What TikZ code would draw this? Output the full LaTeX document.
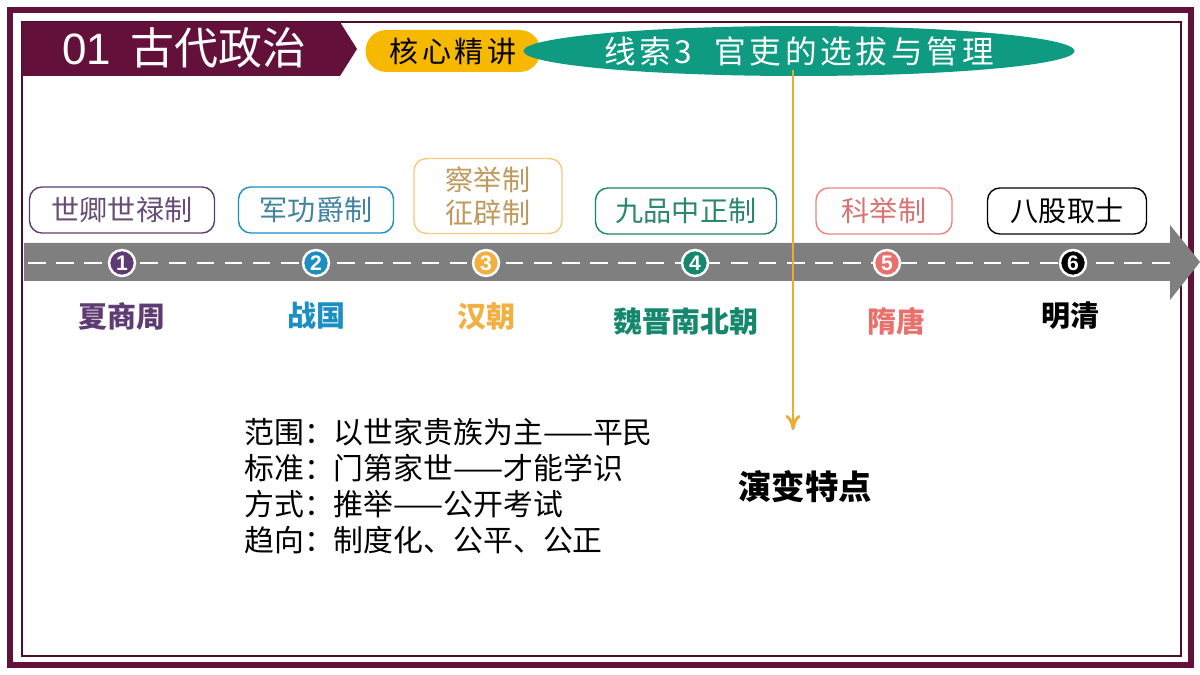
\documentclass[tikz,border=0pt]{standalone}
\usepackage{fontspec}
\setmainfont{Noto Sans CJK SC}
\newfontfamily\latinsans{Liberation Sans}
\newfontfamily\spacedcjk[LetterSpace=12]{Noto Sans CJK SC}
\usepackage{tikz}
\usetikzlibrary{arrows.meta, positioning, shapes.geometric, shadows}
\usepackage{xcolor}
\definecolor{frmaroon}{HTML}{63103A}
\definecolor{pillgold}{HTML}{F7B800}
\definecolor{clueteal}{HTML}{0F9A82}
\definecolor{leadgold}{HTML}{E9AE2E}
\definecolor{roadgrey}{HTML}{7F7F7F}
\definecolor{eraone}{HTML}{5E3B73}
\definecolor{eratwo}{HTML}{1B8EC2}
\definecolor{erathree}{HTML}{F2B043}
\definecolor{erafour}{HTML}{14876C}
\definecolor{erafive}{HTML}{E8716E}

\begin{document}
\begin{tikzpicture}[
    x=0.02cm, y=-0.02cm,
    sysbox/.style={draw, rounded corners=7pt, fill=white, line width=0.8pt,
      minimum height=0.92cm, inner sep=2pt, align=center,
      font=\fontsize{16}{19}\selectfont},
    stop/.style={circle, draw=white, line width=1.4pt, minimum size=0.52cm,
      inner sep=0pt, text=white, font=\fontsize{12}{12}\bfseries\latinsans,
      drop shadow={shadow xshift=1pt, shadow yshift=-1pt, opacity=0.35}},
    era/.style={font=\fontsize{16.5}{19}\bfseries\selectfont}]

  \useasboundingbox (0,0) rectangle (1200,675);
  \fill[white] (0,0) rectangle (1200,675);

  % frame
  \draw[frmaroon, line width=3.4pt] (10,10) rectangle (1191,665);
  \draw[frmaroon!80!black, line width=1.1pt] (22,22) rectangle (1181,656);

  % header
  \fill[frmaroon] (22,22) -- (340,22) -- (357,49) -- (340,76) -- (22,76) -- cycle;
  \node[text=white, anchor=west, font=\fontsize{25}{25}\selectfont] (part) at (56,48)
    {{\latinsans 01}\hspace{0.45em}古代政治};
  \node[fill=pillgold, rounded corners=0.42cm, minimum width=3.5cm,
    minimum height=0.84cm, font=\fontsize{16.5}{17}\spacedcjk] (core) at (453,51)
    {核心精讲};
  \node[ellipse, fill=clueteal, minimum width=10.9cm, minimum height=1cm,
    inner sep=0pt, text=white, font=\fontsize{18}{18}\spacedcjk] (clue) at (799,51)
    {线索3\ \ 官吏的选拔与管理};

  % timeline
  \fill[roadgrey] (24,243) -- (1170,243) -- (1170,225) -- (1200,262)
    -- (1170,300) -- (1170,281) -- (24,281) -- cycle;
  \draw[white, line width=1.2pt, dash pattern=on 10 off 6] (28,263) -- (1172,263);

  \node[sysbox, draw=eraone, text=eraone!75!gray, minimum width=3.7cm] (sys1) at (122,210) {世卿世禄制};
  \node[sysbox, draw=eratwo, text=eratwo!70!black!80, minimum width=3.1cm] (sys2) at (316,210) {军功爵制};
  \node[sysbox, draw=erathree!70!white, text=erathree!55!gray, minimum width=2.96cm,
    minimum height=1.5cm] (sys3) at (488,196) {察举制\\征辟制};
  \node[sysbox, draw=erafour, text=erafour!80!gray, minimum width=3.62cm] (sys4) at (686,211) {九品中正制};
  \node[sysbox, draw=erafive!85!white, text=erafive!85!gray, minimum width=2.72cm] (sys5) at (884,211) {科举制};
  \node[sysbox, draw=black, text=black, minimum width=3.18cm] (sys6) at (1067,211) {八股取士};

  \node[stop, fill=eraone] (s1) at (122,263) {1};
  \node[stop, fill=eratwo] (s2) at (316,263) {2};
  \node[stop, fill=erathree] (s3) at (486,263) {3};
  \node[stop, fill=erafour] (s4) at (695,263) {4};
  \node[stop, fill=erafive] (s5) at (887,263) {5};
  \node[stop, fill=black] (s6) at (1073,263) {6};

  \node[era, text=eraone] (e1) at (122,316) {夏商周};
  \node[era, text=eratwo] (e2) at (316,316) {战国};
  \node[era, text=erathree] (e3) at (486,316) {汉朝};
  \node[era, text=erafour] (e4) at (686,321) {魏晋南北朝};
  \node[era, text=erafive] (e5) at (896,321) {隋唐};
  \node[era, text=black] (e6) at (1070,316) {明清};

  % features
  \node[anchor=north west, align=left, inner sep=0pt,
    font=\fontsize{17}{20.5}\selectfont] (feat) at (244,418) {%
    范围：以世家贵族为主——平民\\
    标准：门第家世——才能学识\\
    方式：推举——公开考试\\
    趋向：制度化、公平、公正};
  \node[font=\fontsize{19}{19}\bfseries\selectfont] (trait) at (805,487) {演变特点};

  \coordinate (leadtop) at (793,70);
  \coordinate (leadend) at (793,430);
  \draw[leadgold, line width=1.6pt, -{To[length=3mm, width=3mm]}] (leadtop) -- (leadend);
\end{tikzpicture}
\end{document}
